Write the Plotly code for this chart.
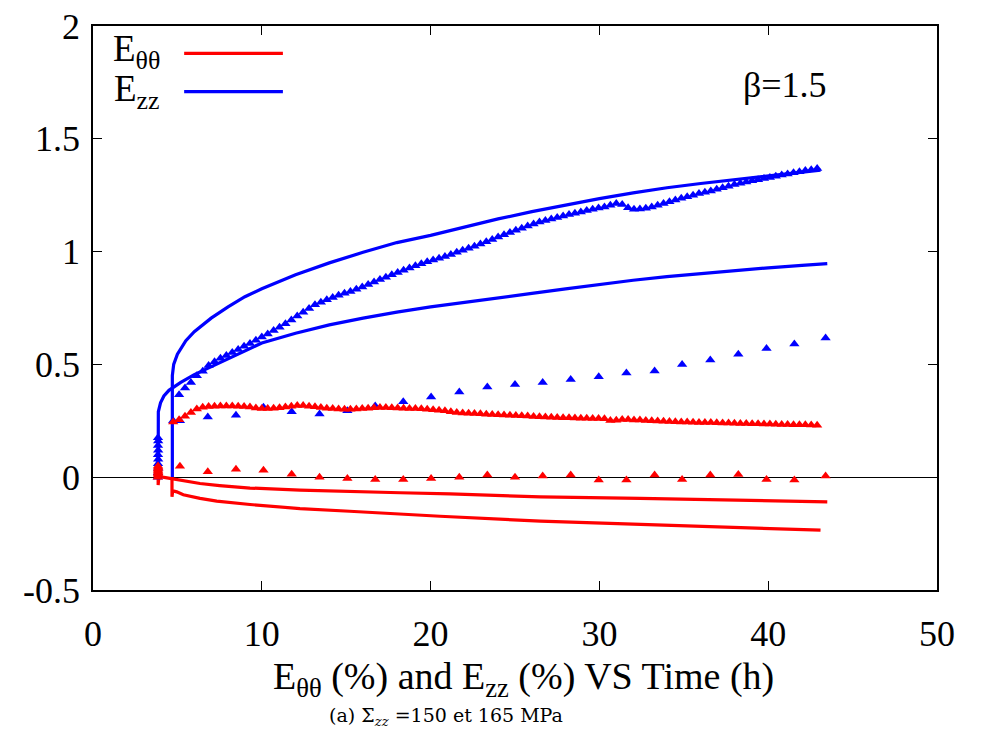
import plotly.graph_objects as go

# ---------------- data ----------------
# simulation lines
ezz_sim_a_t = [4.70, 4.70, 4.78, 5.0, 5.5, 6.0, 7.0, 8.0, 9.0, 10.0, 12.0, 14.0, 16.0, 18.0, 20.0,
               22.0, 24.0, 26.0, 28.0, 30.0, 32.0, 34.0, 36.0, 38.0, 40.0, 42.0, 43.1]
ezz_sim_a_v = [0.0, 0.45, 0.50, 0.545, 0.605, 0.645, 0.705, 0.755, 0.80, 0.835, 0.897, 0.95, 0.997,
               1.04, 1.072, 1.11, 1.145, 1.177, 1.207, 1.235, 1.26, 1.283, 1.302, 1.318, 1.335, 1.35, 1.361]

ezz_sim_b_t = [3.86, 3.87, 4.0, 4.2, 4.5, 4.8, 5.2, 6.0, 7.0, 8.0, 9.0, 10.0, 12.0, 14.0, 16.0, 18.0,
               20.0, 22.0, 24.0, 26.0, 28.0, 30.0, 32.0, 34.0, 36.0, 38.0, 40.0, 42.0, 43.5]
ezz_sim_b_v = [0.0, 0.29, 0.33, 0.36, 0.385, 0.40, 0.42, 0.455, 0.49, 0.525, 0.56, 0.595, 0.638, 0.675,
               0.705, 0.732, 0.755, 0.776, 0.796, 0.815, 0.835, 0.855, 0.873, 0.889, 0.903, 0.916,
               0.928, 0.939, 0.947]

ett_sim_a_t = [3.86, 3.86, 3.90, 4.3, 4.76, 5.5, 6.34, 7.5, 9.3, 12.26, 15.2, 18.2, 21.15, 26.5,
               32.4, 38.3, 43.5]
ett_sim_a_v = [0.0, -0.035, 0.003, -0.002, -0.008, -0.018, -0.028, -0.037, -0.048, -0.057, -0.064,
               -0.069, -0.074, -0.087, -0.094, -0.102, -0.109]

ett_sim_b_t = [4.68, 4.68, 4.72, 4.96, 5.35, 6.34, 7.33, 9.3, 12.26, 15.2, 18.2, 19.8, 20.56, 26.5,
               32.4, 38.3, 43.1]
ett_sim_b_v = [0.0, -0.087, -0.06, -0.065, -0.078, -0.094, -0.106, -0.121, -0.139, -0.151, -0.164,
               -0.171, -0.173, -0.195, -0.208, -0.223, -0.235]

# dense experimental points (shared time base)
dense_t = [4.75, 5.10, 5.45, 5.80, 6.15, 6.50, 6.85, 7.20, 7.55, 7.90, 8.25, 8.60, 8.95, 9.30, 9.65,
           10.00, 10.35, 10.70, 11.05, 11.40, 11.75, 12.10, 12.45, 12.80, 13.15, 13.50, 13.85, 14.20,
           14.55, 14.90, 15.25, 15.60, 15.95, 16.30, 16.65, 17.00, 17.35, 17.70, 18.05, 18.40, 18.75,
           19.10, 19.45, 19.80, 20.15, 20.50, 20.85, 21.20, 21.55, 21.90, 22.25, 22.60, 22.95, 23.30,
           23.65, 24.00, 24.35, 24.70, 25.05, 25.40, 25.75, 26.10, 26.45, 26.80, 27.15, 27.50, 27.85,
           28.20, 28.55, 28.90, 29.25, 29.60, 29.95, 30.30, 30.65, 31.00, 31.35, 31.70, 32.05, 32.40,
           32.75, 33.10, 33.45, 33.80, 34.15, 34.50, 34.85, 35.20, 35.55, 35.90, 36.25, 36.60, 36.95,
           37.30, 37.65, 38.00, 38.35, 38.70, 39.05, 39.40, 39.75, 40.10, 40.45, 40.80, 41.15, 41.50,
           41.85, 42.20, 42.55, 42.90]
ezz_dense = [0.25, 0.365, 0.395, 0.42, 0.45, 0.47, 0.495, 0.512, 0.527, 0.54, 0.553, 0.566, 0.58,
             0.593, 0.607, 0.621, 0.635, 0.65, 0.665, 0.68, 0.697, 0.714, 0.731, 0.748, 0.764, 0.776,
             0.787, 0.797, 0.806, 0.815, 0.823, 0.833, 0.843, 0.854, 0.865, 0.876, 0.886, 0.897, 0.907,
             0.917, 0.927, 0.937, 0.946, 0.955, 0.963, 0.97, 0.978, 0.987, 0.997, 1.006, 1.015, 1.024,
             1.034, 1.044, 1.054, 1.065, 1.075, 1.085, 1.095, 1.104, 1.113, 1.122, 1.131, 1.138, 1.145,
             1.151, 1.158, 1.164, 1.17, 1.176, 1.182, 1.188, 1.193, 1.198, 1.205, 1.213, 1.209, 1.194,
             1.188, 1.189, 1.192, 1.198, 1.205, 1.213, 1.221, 1.229, 1.236, 1.243, 1.25, 1.257, 1.263,
             1.269, 1.276, 1.283, 1.29, 1.297, 1.303, 1.309, 1.314, 1.319, 1.324, 1.329, 1.334, 1.339,
             1.344, 1.349, 1.354, 1.359, 1.363, 1.368]
ett_dense = [0.245, 0.255, 0.27, 0.287, 0.302, 0.31, 0.313, 0.315, 0.316, 0.316, 0.316, 0.315, 0.313,
             0.311, 0.307, 0.304, 0.304, 0.306, 0.308, 0.311, 0.315, 0.318, 0.318, 0.315, 0.312, 0.309,
             0.306, 0.304, 0.302, 0.301, 0.301, 0.302, 0.304, 0.306, 0.308, 0.309, 0.309, 0.308, 0.307,
             0.306, 0.305, 0.304, 0.303, 0.301, 0.299, 0.297, 0.294, 0.29, 0.287, 0.285, 0.283, 0.282,
             0.281, 0.279, 0.278, 0.277, 0.276, 0.275, 0.274, 0.272, 0.271, 0.269, 0.268, 0.267, 0.266,
             0.265, 0.264, 0.263, 0.262, 0.261, 0.261, 0.26, 0.26, 0.259, 0.251, 0.252, 0.256, 0.256,
             0.254, 0.253, 0.251, 0.25, 0.249, 0.248, 0.247, 0.246, 0.245, 0.245, 0.244, 0.243, 0.242,
             0.242, 0.241, 0.24, 0.24, 0.239, 0.238, 0.238, 0.237, 0.237, 0.236, 0.236, 0.235, 0.234,
             0.234, 0.233, 0.232, 0.232, 0.231, 0.23]

# sparse experimental points (with loading cluster at ~3.85 h)
sparse_t = [3.84, 3.85, 3.86, 3.85, 3.86, 3.85, 3.86, 3.85, 3.86, 3.85,
            5.15, 6.80, 8.47, 10.10, 11.77, 13.42, 15.07, 16.72, 18.38, 20.03, 21.70, 23.36,
            25.00, 26.64, 28.30, 29.96, 31.60, 33.27, 34.90, 36.57, 38.23, 39.90, 41.55, 43.40]
ezz_sparse = [0.0, 0.02, 0.04, 0.06, 0.08, 0.10, 0.12, 0.14, 0.16, 0.175,
              0.25, 0.267, 0.275, 0.31, 0.29, 0.28, 0.294, 0.316, 0.334, 0.356, 0.378, 0.40,
              0.411, 0.42, 0.433, 0.445, 0.462, 0.471, 0.50, 0.519, 0.545, 0.57, 0.59, 0.617]
ett_sparse = [0.0, 0.01, 0.02, 0.03, 0.04, 0.05, 0.045, 0.035, 0.025, 0.015,
              0.049, 0.024, 0.035, 0.031, 0.013, 0.0, -0.006, -0.01, -0.01, -0.006, 0.0, 0.01,
              0.0, 0.005, 0.01, -0.012, -0.012, 0.01, -0.01, 0.01, 0.012, -0.01, -0.012, 0.005]

x_tick_vals = [0, 10, 20, 30, 40, 50]
y_tick_vals = [-0.5, 0, 0.5, 1, 1.5, 2]
y_tick_text = ["-0.5", "0", "0.5", "1", "1.5", "2"]

RED = "#ff0000"
BLUE = "#0000ff"
SERIF = "Liberation Serif, Times New Roman, serif"

fig = go.Figure()

for t, v, c in [(ezz_sim_a_t, ezz_sim_a_v, BLUE), (ezz_sim_b_t, ezz_sim_b_v, BLUE),
                (ett_sim_a_t, ett_sim_a_v, RED), (ett_sim_b_t, ett_sim_b_v, RED)]:
    fig.add_trace(go.Scatter(x=t, y=v, mode="lines", line=dict(color=c, width=3.2),
                             showlegend=False, hoverinfo="skip"))

for t, v, c in [(sparse_t, ezz_sparse, BLUE), (dense_t, ezz_dense, BLUE),
                (sparse_t, ett_sparse, RED), (dense_t, ett_dense, RED)]:
    fig.add_trace(go.Scatter(x=t, y=v, mode="markers",
                             marker=dict(symbol="triangle-up", size=9, color=c, line=dict(width=0)),
                             showlegend=False, hoverinfo="skip"))

axis_common = dict(showline=True, linecolor="black", linewidth=1.5, mirror="allticks",
                   ticks="inside", ticklen=9, tickwidth=1.2, tickcolor="black",
                   showgrid=False, ticklabeloverflow="allow",
                   tickfont=dict(family=SERIF, size=36, color="black"))

fig.update_xaxes(range=[0, 50], tickvals=x_tick_vals, zeroline=False,
                 ticklabelstandoff=11, **axis_common)
fig.update_yaxes(range=[-0.5, 2], tickvals=y_tick_vals, ticktext=y_tick_text,
                 zeroline=True, zerolinecolor="black", zerolinewidth=1.2,
                 ticklabelstandoff=4, **axis_common)

annotations = [
    dict(text="E<sub>θθ</sub> (%) and E<sub>zz</sub> (%) VS Time (h)", xref="paper", yref="paper",
         x=0.51, y=-0.158, xanchor="center", yanchor="middle", showarrow=False,
         font=dict(family=SERIF, size=38, color="black")),
    dict(text="(a) Σ<sub><i>zz</i></sub> =150 et 165 MPa", xref="paper", yref="paper",
         x=0.418, y=-0.2245, xanchor="center", yanchor="middle", showarrow=False,
         font=dict(family="DejaVu Serif", size=19, color="black")),
    dict(text="β=1.5", xref="paper", yref="paper", x=0.82, y=0.895, xanchor="center",
         yanchor="middle", showarrow=False, font=dict(family=SERIF, size=36, color="black")),
    dict(text="E<sub>θθ</sub>", xref="paper", yref="paper", x=0.0818, y=0.954, xanchor="right",
         yanchor="middle", showarrow=False, font=dict(family=SERIF, size=37, color="black")),
    dict(text="E<sub>zz</sub>", xref="paper", yref="paper", x=0.0818, y=0.884, xanchor="right",
         yanchor="middle", showarrow=False, font=dict(family=SERIF, size=37, color="black")),
]

shapes = [
    dict(type="line", xref="paper", yref="paper", x0=0.108, x1=0.225, y0=0.9516, y1=0.9516,
         line=dict(color=RED, width=3.2)),
    dict(type="line", xref="paper", yref="paper", x0=0.108, x1=0.225, y0=0.8835, y1=0.8835,
         line=dict(color=BLUE, width=3.2)),
]

# page body has an 8px margin: plot area placed at x 93..937, y 26..590 of the window
fig.update_layout(width=971, height=723, margin=dict(l=85, r=42, t=18, b=141, autoexpand=False),
                  paper_bgcolor="white", plot_bgcolor="white", showlegend=False,
                  annotations=annotations, shapes=shapes)

fig.write_html("out.html")
